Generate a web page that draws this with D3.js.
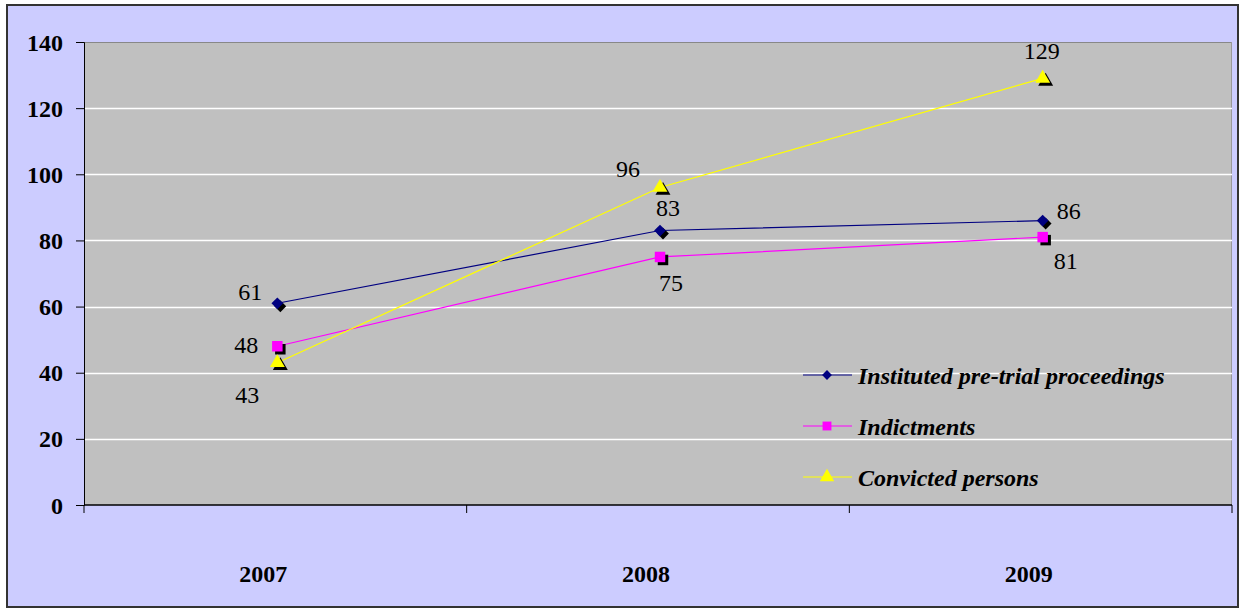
<!DOCTYPE html>
<html>
<head>
<meta charset="utf-8">
<script src="https://cdn.jsdelivr.net/npm/d3@7"></script>
<style>
  html, body { margin: 0; padding: 0; background: #fff; }
  svg { display: block; }
  text { font-family: "Liberation Serif", "Times New Roman", serif; }
</style>
</head>
<body>
<svg id="chart" width="1239" height="608"></svg>
<script>
// Yearly figures
const years = ["2007", "2008", "2009"];
const proceedings = [61, 83, 86];
const indictments = [48, 75, 81];
const convicted = [43, 96, 129];
const yTicks = [0, 20, 40, 60, 80, 100, 120, 140];
const seriesNames = ["Instituted pre-trial proceedings", "Indictments", "Convicted persons"];

// Data-label offsets from each point (centre of the label)
const series = [
  { name: seriesNames[0], values: proceedings, color: "#000080", shape: "diamond",
    labelDx: [-27, 8, 26], labelDy: [-11, -23, -10] },
  { name: seriesNames[1], values: indictments, color: "#FF00FF", shape: "square",
    labelDx: [-31, 11, 23], labelDy: [-1, 26, 24] },
  { name: seriesNames[2], values: convicted, color: "#FFFF00", shape: "triangle",
    labelDx: [-30, -32, -1], labelDy: [32, -19, -27] }
];

const svg = d3.select("#chart");
const plot = { left: 84, top: 42, right: 1232, bottom: 505 };

// Outer chart area
svg.append("rect").attr("x", 7).attr("y", 5).attr("width", 1231).attr("height", 602)
  .attr("fill", "#CCCCFF").attr("stroke", "#333").attr("stroke-width", 2);

const x = d3.scaleBand().domain(years).range([plot.left, plot.right]);
const y = d3.scaleLinear().domain([0, 140]).range([plot.bottom, plot.top]);

// Plot area
svg.append("rect").attr("x", plot.left).attr("y", plot.top)
  .attr("width", plot.right - plot.left).attr("height", plot.bottom - plot.top)
  .attr("fill", "#C0C0C0");
svg.append("line").attr("x1", plot.left).attr("x2", plot.right)
  .attr("y1", plot.top + 0.5).attr("y2", plot.top + 0.5).attr("stroke", "#888");
svg.append("line").attr("x1", plot.right - 0.5).attr("x2", plot.right - 0.5)
  .attr("y1", plot.top).attr("y2", plot.bottom).attr("stroke", "#999");

// Gridlines
svg.append("g").selectAll("line").data(yTicks.filter(t => t > 0 && t < 140)).join("line")
  .attr("x1", plot.left).attr("x2", plot.right)
  .attr("y1", d => Math.round(y(d)) + 0.5).attr("y2", d => Math.round(y(d)) + 0.5)
  .attr("stroke", "#FFFFFF").attr("stroke-width", 1.5);

// Y axis
const yAxis = svg.append("g").attr("transform", `translate(${plot.left},0)`)
  .call(d3.axisLeft(y).tickValues(yTicks).tickSize(8).tickPadding(13));
yAxis.select(".domain").attr("stroke", "#000");
yAxis.selectAll(".tick line").attr("stroke", "#000");
yAxis.selectAll("text").attr("font-size", 24).attr("font-weight", "bold")
  .attr("font-family", "Liberation Serif, serif").attr("fill", "#000")
  .attr("dy", null).attr("y", 8);

// X axis: ticks at band boundaries, labels below
const xAxisG = svg.append("g");
xAxisG.append("line").attr("x1", plot.left).attr("x2", plot.right)
  .attr("y1", plot.bottom).attr("y2", plot.bottom).attr("stroke", "#000").attr("stroke-width", 1.5);
const bounds = years.map(d => x(d)).concat([plot.right]);
xAxisG.selectAll("line.tk").data(bounds).join("line").attr("class", "tk")
  .attr("x1", d => d).attr("x2", d => d)
  .attr("y1", plot.bottom).attr("y2", plot.bottom + 8).attr("stroke", "#000");
xAxisG.selectAll("text").data(years).join("text")
  .attr("x", d => x(d) + x.bandwidth() / 2 - 12).attr("y", 582)
  .attr("text-anchor", "middle").attr("font-size", 24).attr("font-weight", "bold")
  .text(d => d);

const cx = d => x(d) + x.bandwidth() / 2 + 2;

const symbols = {
  diamond: d3.symbol().type(d3.symbolDiamond2).size(88),
  square: d3.symbol().type(d3.symbolSquare2).size(140),
  triangle: d3.symbol().type(d3.symbolTriangle2).size(160)
};
const legendSymbols = {
  diamond: d3.symbol().type(d3.symbolDiamond2).size(62),
  square: d3.symbol().type(d3.symbolSquare2).size(100),
  triangle: d3.symbol().type(d3.symbolTriangle2).size(150)
};

function marker(g, shape, px, py, color) {
  const p = symbols[shape];
  g.append("path").attr("d", p()).attr("transform", `translate(${px + 3},${py + 3})`)
    .attr("fill", "#000");
  g.append("path").attr("d", p()).attr("transform", `translate(${px},${py})`)
    .attr("fill", color);
}

const line = d3.line().x((d, i) => cx(years[i])).y(d => y(d));

series.forEach(s => {
  svg.append("path").datum(s.values).attr("d", line)
    .attr("fill", "none").attr("stroke", s.color).attr("stroke-width", 1.2);
});
series.forEach(s => {
  const g = svg.append("g");
  s.values.forEach((v, i) => marker(g, s.shape, cx(years[i]), y(v), s.color));
  s.values.forEach((v, i) => {
    g.append("text").attr("x", cx(years[i]) + s.labelDx[i]).attr("y", y(v) + s.labelDy[i] + 8)
      .attr("text-anchor", "middle")
      .attr("font-size", 24).attr("fill", "#000").text(v);
  });
});

// Legend
const legend = svg.append("g");
series.forEach((s, i) => {
  const ly = 375 + i * 51;
  legend.append("line").attr("x1", 803).attr("x2", 852).attr("y1", ly).attr("y2", ly)
    .attr("stroke", s.color).attr("stroke-width", 1.2);
  legend.append("path").attr("d", legendSymbols[s.shape]()).attr("transform", `translate(827,${ly})`)
    .attr("fill", s.color);
  legend.append("text").attr("x", 858).attr("y", ly + 9)
    .attr("font-size", 24).attr("font-weight", "bold").attr("font-style", "italic")
    .text(s.name);
});
</script>
</body>
</html>
